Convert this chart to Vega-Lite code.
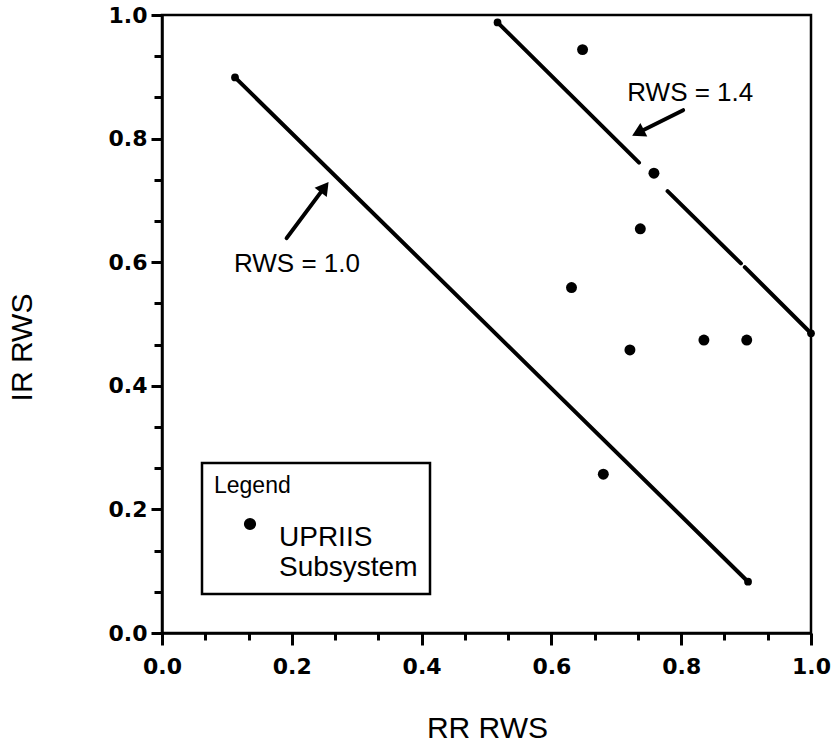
{
  "$schema": "https://vega.github.io/schema/vega-lite/v6.json",
  "width": 649,
  "height": 618,
  "autosize": {"type": "none"},
  "padding": {"left": 162, "top": 15, "right": 24, "bottom": 114},
  "background": "white",
  "config": {
    "view": {"stroke": "black", "strokeWidth": 2.5},
    "legend": {"strokeWidth": 2.5, "cornerRadius": 0}
  },
  "datasets": {
    "rws": [
      {"line": "RWS = 1.0", "seg": "a", "rr": 0.1125, "ir": 0.899, "end": true},
      {"line": "RWS = 1.0", "seg": "a", "rr": 0.903, "ir": 0.083, "end": true},
      {"line": "RWS = 1.4", "seg": "b1", "rr": 0.517, "ir": 0.988, "end": true},
      {"line": "RWS = 1.4", "seg": "b1", "rr": 0.735, "ir": 0.761, "end": false},
      {"line": "RWS = 1.4", "seg": "b2", "rr": 0.779, "ir": 0.715, "end": false},
      {"line": "RWS = 1.4", "seg": "b2", "rr": 0.892, "ir": 0.598, "end": false},
      {"line": "RWS = 1.4", "seg": "b3", "rr": 0.898, "ir": 0.592, "end": false},
      {"line": "RWS = 1.4", "seg": "b3", "rr": 1.0, "ir": 0.485, "end": true}
    ],
    "upriis": [
      {"series": "UPRIIS Subsystem", "rr": 0.648, "ir": 0.944},
      {"series": "UPRIIS Subsystem", "rr": 0.758, "ir": 0.744},
      {"series": "UPRIIS Subsystem", "rr": 0.737, "ir": 0.654},
      {"series": "UPRIIS Subsystem", "rr": 0.631, "ir": 0.559},
      {"series": "UPRIIS Subsystem", "rr": 0.721, "ir": 0.458},
      {"series": "UPRIIS Subsystem", "rr": 0.835, "ir": 0.474},
      {"series": "UPRIIS Subsystem", "rr": 0.901, "ir": 0.474},
      {"series": "UPRIIS Subsystem", "rr": 0.680, "ir": 0.257}
    ]
  },
  "layer": [
    {
      "data": {"name": "rws"},
      "mark": {"type": "line", "color": "black", "strokeWidth": 4, "strokeCap": "round"},
      "encoding": {
        "x": {
          "field": "rr", "type": "quantitative", "title": "RR RWS",
          "scale": {"domain": [0, 1], "nice": false, "zero": false},
          "axis": {
            "values": [0, 0.066667, 0.133333, 0.2, 0.266667, 0.333333, 0.4, 0.466667, 0.533333, 0.6, 0.666667, 0.733333, 0.8, 0.866667, 0.933333, 1],
            "labelExpr": "abs(datum.value*5 - round(datum.value*5)) < 0.001 ? format(datum.value, '.1f') : ''",
            "tickSize": {"condition": {"test": "abs(datum.value*5 - round(datum.value*5)) < 0.001", "value": 12}, "value": 7},
            "labelPadding": 11,
            "labelFont": "DejaVu Sans", "labelFontWeight": "bold", "labelFontSize": 22, "labelColor": "black",
            "labelFlush": false, "labelOverlap": false, "labelBound": false,
            "domainColor": "black", "domainWidth": 2.5, "tickColor": "black", "tickWidth": 3,
            "grid": false,
            "titleFont": "Liberation Sans", "titleFontSize": 30, "titleFontWeight": "normal", "titleColor": "black",
            "titleX": 325, "titleY": 104, "titleBaseline": "alphabetic", "titleAlign": "center"
          }
        },
        "y": {
          "field": "ir", "type": "quantitative", "title": "IR RWS",
          "scale": {"domain": [0, 1], "nice": false, "zero": false},
          "axis": {
            "values": [0, 0.066667, 0.133333, 0.2, 0.266667, 0.333333, 0.4, 0.466667, 0.533333, 0.6, 0.666667, 0.733333, 0.8, 0.866667, 0.933333, 1],
            "labelExpr": "abs(datum.value*5 - round(datum.value*5)) < 0.001 ? format(datum.value, '.1f') : ''",
            "tickSize": {"condition": {"test": "abs(datum.value*5 - round(datum.value*5)) < 0.001", "value": 11}, "value": 8},
            "labelPadding": 4,
            "labelFont": "DejaVu Sans", "labelFontWeight": "bold", "labelFontSize": 22, "labelColor": "black",
            "labelFlush": false, "labelOverlap": false, "labelBound": false,
            "domainColor": "black", "domainWidth": 2.5, "tickColor": "black", "tickWidth": 3,
            "grid": false,
            "titleFont": "Liberation Sans", "titleFontSize": 30, "titleFontWeight": "normal", "titleColor": "black",
            "titleX": -140, "titleY": 332, "titleAngle": -90, "titleBaseline": "middle", "titleAlign": "center"
          }
        },
        "detail": {"field": "seg", "type": "nominal"}
      }
    },
    {
      "data": {"name": "rws"},
      "transform": [{"filter": "datum.end"}],
      "mark": {"type": "point", "filled": true, "shape": "circle", "size": 60, "color": "black", "opacity": 1},
      "encoding": {
        "x": {"field": "rr", "type": "quantitative", "title": "RR RWS"},
        "y": {"field": "ir", "type": "quantitative", "title": "IR RWS"}
      }
    },
    {
      "data": {"name": "upriis"},
      "mark": {"type": "point", "filled": true, "shape": "circle", "size": 120, "opacity": 1},
      "encoding": {
        "x": {"field": "rr", "type": "quantitative", "title": "RR RWS"},
        "y": {"field": "ir", "type": "quantitative", "title": "IR RWS"},
        "color": {
          "field": "series", "type": "nominal",
          "scale": {"range": ["black"]},
          "legend": {
            "orient": "none", "legendX": 40, "legendY": 448,
            "title": "Legend", "titleFont": "Liberation Sans", "titleFontSize": 23, "titleFontWeight": "normal", "titleColor": "black",
            "titlePadding": 12,
            "labelFont": "Liberation Sans", "labelFontSize": 28, "labelColor": "black", "labelBaseline": "top",
            "labelExpr": "split(datum.label, ' ')", "labelLimit": 300,
            "labelOffset": 15,
            "symbolType": "circle", "symbolSize": 115, "symbolFillColor": "black", "symbolStrokeColor": "black", "symbolOffset": 22,
            "strokeColor": "black", "padding": 12
          }
        }
      }
    },
    {
      "data": {"values": [{}]},
      "mark": {"type": "rule", "color": "black", "strokeWidth": 4, "strokeCap": "round"},
      "encoding": {
        "x": {"datum": 0.192, "type": "quantitative", "title": "RR RWS"},
        "y": {"datum": 0.639, "type": "quantitative", "title": "IR RWS"},
        "x2": {"datum": 0.2506},
        "y2": {"datum": 0.7214}
      }
    },
    {
      "data": {"values": [{}]},
      "mark": {"type": "point", "filled": true, "shape": "triangle-up", "size": 230, "angle": 37, "color": "black", "opacity": 1},
      "encoding": {
        "x": {"datum": 0.2506, "type": "quantitative", "title": "RR RWS"},
        "y": {"datum": 0.7214, "type": "quantitative", "title": "IR RWS"}
      }
    },
    {
      "data": {"values": [{}]},
      "mark": {"type": "rule", "color": "black", "strokeWidth": 4, "strokeCap": "round"},
      "encoding": {
        "x": {"datum": 0.803, "type": "quantitative", "title": "RR RWS"},
        "y": {"datum": 0.846, "type": "quantitative", "title": "IR RWS"},
        "x2": {"datum": 0.7334},
        "y2": {"datum": 0.8095}
      }
    },
    {
      "data": {"values": [{}]},
      "mark": {"type": "point", "filled": true, "shape": "triangle-up", "size": 230, "angle": 243, "color": "black", "opacity": 1},
      "encoding": {
        "x": {"datum": 0.7334, "type": "quantitative", "title": "RR RWS"},
        "y": {"datum": 0.8095, "type": "quantitative", "title": "IR RWS"}
      }
    },
    {
      "data": {"values": [{}]},
      "mark": {"type": "text", "text": "RWS = 1.0", "font": "Liberation Sans", "fontSize": 26, "color": "black", "align": "center", "baseline": "middle"},
      "encoding": {
        "x": {"datum": 0.208, "type": "quantitative", "title": "RR RWS"},
        "y": {"datum": 0.597, "type": "quantitative", "title": "IR RWS"}
      }
    },
    {
      "data": {"values": [{}]},
      "mark": {"type": "text", "text": "RWS = 1.4", "font": "Liberation Sans", "fontSize": 26, "color": "black", "align": "center", "baseline": "middle"},
      "encoding": {
        "x": {"datum": 0.814, "type": "quantitative", "title": "RR RWS"},
        "y": {"datum": 0.874, "type": "quantitative", "title": "IR RWS"}
      }
    }
  ]
}
